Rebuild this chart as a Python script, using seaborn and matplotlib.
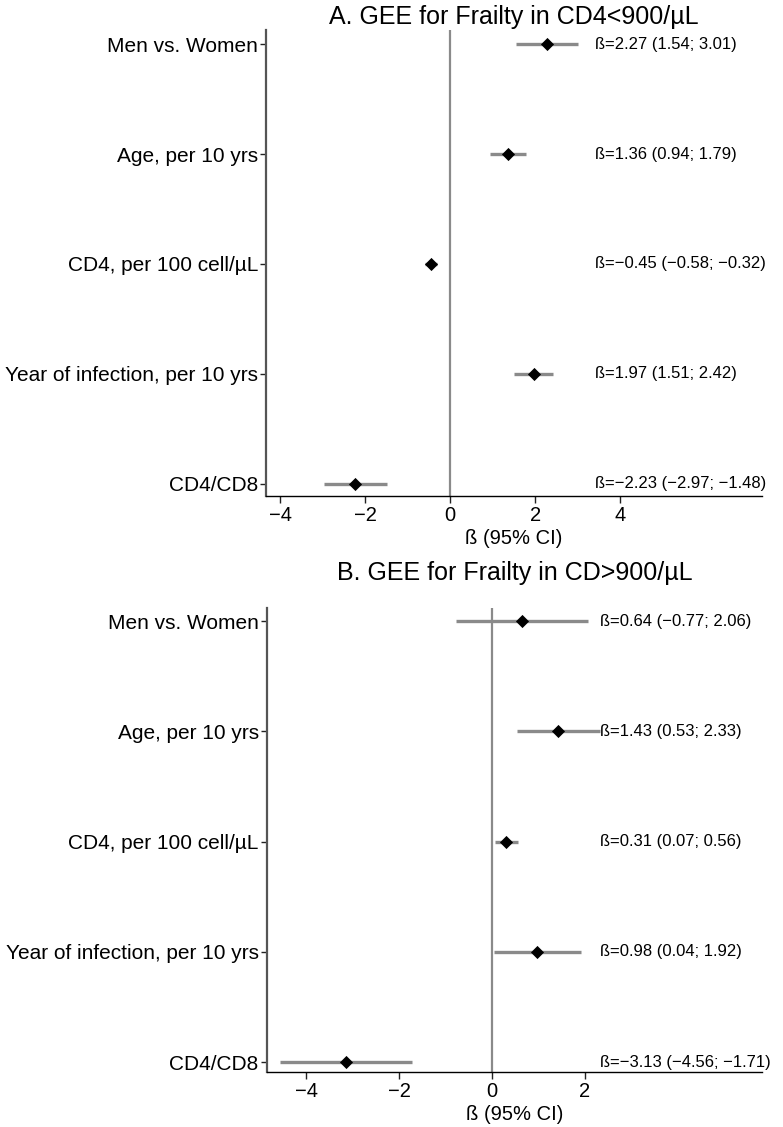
import numpy as np
import pandas as pd
import matplotlib
matplotlib.use('Agg')
import matplotlib.pyplot as plt
import matplotlib.transforms as mtransforms
import seaborn as sns

# Row labels (top to bottom)
labels = ['Men vs. Women', 'Age, per 10 yrs', 'CD4, per 100 cell/\u00b5L',
          'Year of infection, per 10 yrs', 'CD4/CD8']

# Panel A: CD4<900
beta_a = [2.27, 1.36, -0.45, 1.97, -2.23]
lo_a = [1.54, 0.94, -0.58, 1.51, -2.97]
hi_a = [3.01, 1.79, -0.32, 2.42, -1.48]

# Panel B: CD>900
beta_b = [0.64, 1.43, 0.31, 0.98, -3.13]
lo_b = [-0.77, 0.53, 0.07, 0.04, -4.56]
hi_b = [2.06, 2.33, 0.56, 1.92, -1.71]

titles = ['A. GEE for Frailty in CD4<900/\u00b5L', 'B. GEE for Frailty in CD>900/\u00b5L']
xticks_a = [-4, -2, 0, 2, 4]
xticks_b = [-4, -2, 0, 2]


def fmt(v):
    return f'{v:.2f}'.replace('-', '\u2212')


def forest(ax, beta, lo, hi, title, xticks, xlim, ylim, text_x, title_pad):
    df = pd.DataFrame({'label': labels, 'beta': beta, 'lo': lo, 'hi': hi})
    df['pos'] = np.arange(len(df))

    # zero reference line and CI bars
    ax.axvline(0, color='#8a8a8a', lw=1.6, zorder=1)
    ax.hlines(df['pos'], df['lo'], df['hi'], color='#8a8a8a', lw=2.4, zorder=2)
    sns.scatterplot(data=df, x='beta', y='pos', marker='D', s=45, color='black',
                    edgecolor='black', linewidth=0, zorder=3, ax=ax, legend=False)

    trans = mtransforms.blended_transform_factory(ax.transAxes, ax.transData)
    for _, r in df.iterrows():
        txt = f"\u00df={fmt(r['beta'])} ({fmt(r['lo'])}; {fmt(r['hi'])})"
        ax.text(text_x, r['pos'], txt, transform=trans, ha='left', va='center',
                fontsize=12, color='black', clip_on=False)

    ax.set_yticks(df['pos'])
    ax.set_yticklabels(df['label'], fontsize=15, color='black')
    ax.set_xticks(xticks)
    ax.set_xticklabels([str(t).replace('-', '\u2212') for t in xticks],
                       fontsize=14.5, color='black')
    ax.set_xlim(*xlim)
    ax.set_ylim(*ylim)
    ax.set_ylabel('')
    ax.set_xlabel('\u00df (95% CI)', fontsize=14.5, labelpad=3, color='black')
    ax.set_title(title, fontsize=18, pad=title_pad, color='black')

    sns.despine(ax=ax)
    ax.spines['left'].set_color('#555555')
    ax.spines['left'].set_linewidth(1.6)
    ax.spines['bottom'].set_color('black')
    ax.spines['bottom'].set_linewidth(1.0)
    ax.tick_params(axis='y', length=4, width=1, color='#222222', pad=2)
    ax.tick_params(axis='x', length=5, width=1, color='#222222', pad=2)


sns.set_style('ticks')
plt.rcParams['font.family'] = ['Liberation Sans', 'DejaVu Sans']
plt.rcParams['axes.unicode_minus'] = True

fig = plt.figure(figsize=(7.83, 11.27), dpi=100)
ax_a = fig.add_axes([0.340, 0.560, 0.633, 0.4135])
ax_b = fig.add_axes([0.341, 0.0488, 0.632, 0.4117])

forest(ax_a, beta_a, lo_a, hi_a, titles[0], xticks_a, (-4.33, 7.34), (4.11, -0.13), 0.663, 4)
forest(ax_b, beta_b, lo_b, hi_b, titles[1], xticks_b, (-4.84, 5.81), (4.09, -0.12), 0.673, 20)

fig.savefig('out.png', dpi=100, facecolor='white')
